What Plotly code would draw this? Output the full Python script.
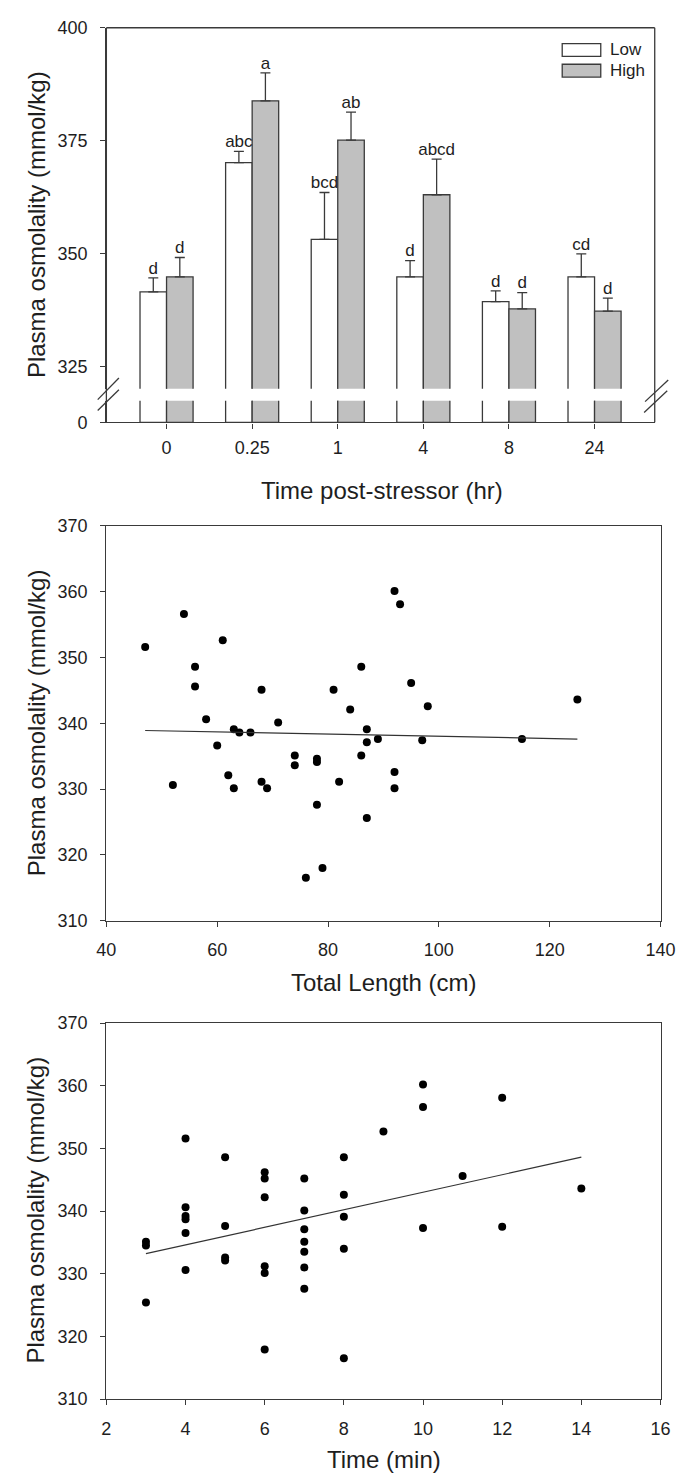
import numpy as np
import plotly.graph_objects as go

W, H = 689, 1482

# ---------------- Data ----------------
times = ["0", "0.25", "1", "4", "8", "24"]
low_mean = [341.5, 370.1, 353.1, 344.8, 339.3, 344.8]
low_err = [3.1, 2.5, 10.4, 3.6, 2.4, 5.1]
high_mean = [344.8, 383.8, 375.1, 363.0, 337.7, 337.2]
high_err = [4.3, 6.2, 6.2, 7.9, 3.6, 2.9]
low_letters = ["d", "abc", "bcd", "d", "d", "cd"]
high_letters = ["d", "a", "ab", "abcd", "d", "d"]

length_cm = [47, 54, 61, 56, 56, 58, 52, 60, 62, 63, 63, 64, 66, 68, 68, 69, 71,
             74, 74, 78, 78, 78, 81, 82, 84, 86, 86, 87, 87, 87, 89, 92, 93, 92,
             92, 95, 97, 98, 115, 125, 76, 79]
osm_len = [351.6, 356.6, 352.6, 348.6, 345.6, 340.6, 330.6, 336.6, 332.1, 330.1,
           339.1, 338.6, 338.6, 345.1, 331.1, 330.1, 340.1, 335.1, 333.6, 334.6,
           334.1, 327.6, 345.1, 331.1, 342.1, 348.6, 335.1, 339.1, 337.1, 325.6,
           337.6, 360.1, 358.1, 332.6, 330.1, 346.1, 337.4, 342.6, 337.6, 343.6,
           316.5, 318.0]
fit_len_x = [47, 125]
fit_len_y = [338.9, 337.6]

time_min = [3, 3, 3, 4, 4, 4, 4, 4, 4, 5, 5, 5, 5, 6, 6, 6, 6, 6, 6,
            7, 7, 7, 7, 7, 7, 7, 8, 8, 8, 8, 8, 9, 10, 10, 10, 11, 12, 12, 14]
osm_time = [335.1, 334.5, 325.4, 351.6, 340.6, 339.2, 338.7, 336.5, 330.6,
            348.6, 337.6, 332.6, 332.1, 346.2, 345.2, 342.2, 331.2, 330.1, 317.9,
            345.2, 340.1, 337.1, 335.1, 333.5, 331.0, 327.6,
            348.6, 342.6, 339.1, 334.0, 316.5, 352.7, 360.2, 356.6, 337.3,
            345.6, 358.1, 337.5, 343.6]
fit_time_x = [3, 14]
fit_time_y = [333.2, 348.6]

# ---------------- Helpers ----------------
def px(p):
    return p / W

def py(p):
    return 1 - p / H

FONT = "Liberation Sans, Arial, sans-serif"
TXT = "#1e1e1e"
AX = "#3a3a3a"
BARW = 0.31

idx = np.arange(len(times))

fig = go.Figure()

# ---------------- Chart 1: bars (upper & lower segments) ----------------
for yax, with_err in (("y", True), ("y2", False)):
    fig.add_trace(go.Bar(
        x=idx, y=low_mean, offset=-BARW, width=BARW, xaxis="x", yaxis=yax,
        marker=dict(color="white", line=dict(color=AX, width=1.3)),
        error_y=dict(type="data", array=low_err, arrayminus=[0] * len(low_err),
                     symmetric=False, color=AX, thickness=1.3, width=5,
                     visible=with_err),
        showlegend=False, name="Low"))
    fig.add_trace(go.Bar(
        x=idx, y=high_mean, offset=0, width=BARW, xaxis="x", yaxis=yax,
        marker=dict(color="#c0c0c0", line=dict(color=AX, width=1.3)),
        error_y=dict(type="data", array=high_err, arrayminus=[0] * len(high_err),
                     symmetric=False, color=AX, thickness=1.3, width=5,
                     visible=with_err),
        showlegend=False, name="High"))

fig.add_trace(go.Scatter(
    x=idx - BARW / 2, y=np.array(low_mean) + np.array(low_err), mode="text",
    text=low_letters, textposition="top center", xaxis="x", yaxis="y",
    textfont=dict(family=FONT, size=17, color=TXT), showlegend=False,
    cliponaxis=False))
fig.add_trace(go.Scatter(
    x=idx + BARW / 2, y=np.array(high_mean) + np.array(high_err), mode="text",
    text=high_letters, textposition="top center", xaxis="x", yaxis="y",
    textfont=dict(family=FONT, size=17, color=TXT), showlegend=False,
    cliponaxis=False))

# ---------------- Chart 2 ----------------
fig.add_trace(go.Scatter(x=length_cm, y=osm_len, mode="markers", xaxis="x2", yaxis="y3",
                         marker=dict(color="black", size=8), showlegend=False))
fig.add_trace(go.Scatter(x=fit_len_x, y=fit_len_y, mode="lines", xaxis="x2", yaxis="y3",
                         line=dict(color="#333333", width=1.2), showlegend=False))

# ---------------- Chart 3 ----------------
fig.add_trace(go.Scatter(x=time_min, y=osm_time, mode="markers", xaxis="x3", yaxis="y4",
                         marker=dict(color="black", size=8), showlegend=False))
fig.add_trace(go.Scatter(x=fit_time_x, y=fit_time_y, mode="lines", xaxis="x3", yaxis="y4",
                         line=dict(color="#333333", width=1.2), showlegend=False))

# ---------------- Axes ----------------
common = dict(showgrid=False, zeroline=False, showline=True, linecolor=AX, linewidth=1.3,
              ticks="outside", ticklen=5, tickcolor=AX, tickwidth=1.2,
              tickfont=dict(family=FONT, size=18, color=TXT))

fig.update_layout(
    width=W, height=H, margin=dict(l=0, r=0, t=0, b=0),
    paper_bgcolor="white", plot_bgcolor="white",
    barmode="overlay",
    xaxis=dict(domain=[px(100), px(669)], anchor="y2", range=[-0.703, len(times) - 0.297],
               tickvals=idx, ticktext=times, ticklabelstandoff=4, **common),
    yaxis=dict(domain=[py(384), py(18)], anchor="x", range=[320, 400],
               tickvals=[325, 350, 375, 400], ticklabelstandoff=9, **common),
    yaxis2=dict(domain=[py(418), py(396)], anchor="x", range=[0, 5],
                tickvals=[0], ticklabelstandoff=9, **common),
    xaxis2=dict(domain=[px(100), px(675)], anchor="y3", range=[40, 140], dtick=20,
                mirror=True, ticklabelstandoff=8, **common),
    yaxis3=dict(domain=[py(923), py(523)], anchor="x2", range=[310, 370], dtick=10,
                mirror=True, ticklabelstandoff=9, **common),
    xaxis3=dict(domain=[px(100), px(675)], anchor="y4", range=[2, 16], dtick=2,
                mirror=True, ticklabelstandoff=8, **common),
    yaxis4=dict(domain=[py(1408), py(1027)], anchor="x3", range=[310, 370], dtick=10,
                mirror=True, ticklabelstandoff=9, **common),
)

shapes = []
line_style = dict(color=AX, width=1.3)
# frame of chart 1
shapes.append(dict(type="line", xref="paper", yref="paper", x0=px(100), x1=px(669),
                   y0=py(18), y1=py(18), line=line_style))
shapes.append(dict(type="line", xref="paper", yref="paper", x0=px(669), x1=px(669),
                   y0=py(18), y1=py(418), line=line_style))
shapes.append(dict(type="line", xref="paper", yref="paper", x0=px(100), x1=px(100),
                   y0=py(18), y1=py(418), line=line_style))
# break marks
for (x0, y0, x1, y1) in [(91, 406, 113, 385), (91, 395, 113, 373),
                         (658, 408, 682, 386), (659, 397, 683, 375)]:
    shapes.append(dict(type="line", xref="paper", yref="paper", x0=px(x0), x1=px(x1),
                       y0=py(y0), y1=py(y1), line=dict(color=AX, width=1.3)))
# legend boxes
shapes.append(dict(type="rect", xref="paper", yref="paper", x0=px(573), x1=px(613),
                   y0=py(47), y1=py(34), fillcolor="white", line=dict(color=AX, width=1.3)))
shapes.append(dict(type="rect", xref="paper", yref="paper", x0=px(573), x1=px(613),
                   y0=py(68), y1=py(55), fillcolor="#c0c0c0", line=dict(color=AX, width=1.3)))

annotations = [
    dict(text="Low", x=px(621), y=py(40.5), xanchor="left", yanchor="middle"),
    dict(text="High", x=px(621), y=py(61.5), xanchor="left", yanchor="middle"),
]
for a in annotations:
    a.update(xref="paper", yref="paper", showarrow=False,
             font=dict(family=FONT, size=17, color=TXT))

title_font = dict(family=FONT, size=24, color=TXT)
titles = [
    dict(text="Plasma osmolality (mmol/kg)", x=px(27), y=py(218), textangle=-90),
    dict(text="Time post-stressor (hr)", x=px(386), y=py(487), textangle=0),
    dict(text="Plasma osmolality (mmol/kg)", x=px(27), y=py(723), textangle=-90),
    dict(text="Total Length (cm)", x=px(388), y=py(986), textangle=0),
    dict(text="Plasma osmolality (mmol/kg)", x=px(27), y=py(1217), textangle=-90),
    dict(text="Time (min)", x=px(388), y=py(1469), textangle=0),
]
for t in titles:
    t.update(xref="paper", yref="paper", showarrow=False, xanchor="center",
             yanchor="middle", font=title_font)
    annotations.append(t)

fig.update_layout(shapes=shapes, annotations=annotations)

fig.write_html("out.html")
